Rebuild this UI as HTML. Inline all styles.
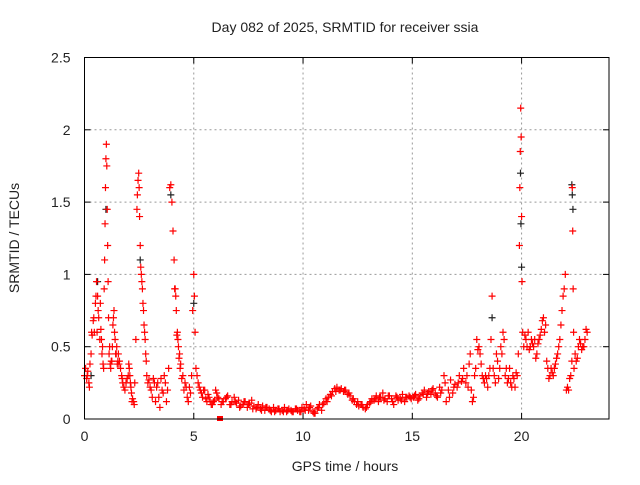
<!DOCTYPE html>
<html><head><meta charset="utf-8"><style>
body{margin:0;background:#fff}
svg text{font-family:"Liberation Sans",sans-serif;font-size:14px;fill:#222}
</style></head><body>
<svg id="chart" width="640" height="480" xmlns="http://www.w3.org/2000/svg">
<text x="345" y="32" text-anchor="middle">Day 082 of 2025, SRMTID for receiver ssia</text>
<text transform="translate(19,238) rotate(-90)" text-anchor="middle">SRMTID / TECUs</text>
<text x="345" y="471" text-anchor="middle">GPS time / hours</text>
<g id="grid"></g>
<g id="marks"></g>
<rect x="84.5" y="57.5" width="524.5" height="361.5" fill="none" stroke="#000" stroke-width="1"/>
</svg>
<script>
const xTicks=[0,5,10,15,20];
const yTicks=[0,0.5,1,1.5,2,2.5];
const yTickLabels=["0","0.5","1","1.5","2","2.5"];
const redT=[0,0.05,0.1,0.15,0.2,0.25,0.3,0.35,0.4,0.45,0.5,0.55,0.6,0.65,0.7,0.75,0.8,0.85,0.9,0.92,0.94,0.96,0.98,1.0,1.02,1.04,1.06,1.08,1.1,1.15,1.2,1.25,1.3,1.35,1.4,1.45,1.5,1.55,1.6,1.7,1.75,1.8,1.9,2.0,2.05,2.1,2.15,2.2,2.25,2.3,2.35,2.4,2.42,2.45,2.48,2.5,2.52,2.55,2.6,2.65,2.7,2.75,2.8,2.85,2.9,3.0,3.1,3.2,3.3,3.4,3.5,3.6,3.7,3.8,3.85,3.9,3.95,4.0,4.05,4.1,4.15,4.2,4.25,4.3,4.35,4.4,4.5,4.6,4.7,4.8,4.9,4.95,5.0,5.03,5.06,5.1,5.2,5.3,5.4,5.5,5.6,5.7,5.8,5.9,6.0,6.1,6.3,6.5,6.7,6.9,7.1,7.3,7.5,7.7,7.9,8.1,8.3,8.5,8.7,8.9,9.1,9.3,9.5,9.7,9.9,10.1,10.3,10.5,10.7,10.9,11.1,11.3,11.5,11.7,11.9,12.1,12.3,12.5,12.7,12.9,13.1,13.3,13.5,13.7,13.9,14.1,14.3,14.5,14.7,14.9,15.1,15.3,15.5,15.7,15.9,16.1,16.3,16.5,16.7,16.9,17.1,17.3,17.5,17.6,17.7,17.8,17.9,18.0,18.1,18.2,18.3,18.4,18.5,18.6,18.65,18.7,18.8,18.9,19.0,19.1,19.2,19.3,19.4,19.5,19.6,19.7,19.8,19.85,19.9,19.92,19.94,19.96,19.98,20.0,20.02,20.05,20.1,20.2,20.3,20.4,20.5,20.6,20.7,20.8,20.9,21.0,21.1,21.2,21.3,21.4,21.5,21.6,21.7,21.8,21.9,22.0,22.05,22.1,22.2,22.3,22.32,22.34,22.36,22.38,22.4,22.5,22.6,22.7,22.8,22.9,23.0];
const redV=[0.3,0.35,0.28,0.33,0.25,0.38,0.45,0.58,0.68,0.6,0.8,0.95,0.85,0.7,0.55,0.62,0.45,0.38,0.9,1.1,1.35,1.6,1.8,1.9,1.75,1.45,1.2,0.95,0.7,0.5,0.35,0.4,0.65,0.75,0.55,0.45,0.38,0.45,0.4,0.3,0.25,0.22,0.25,0.3,0.35,0.25,0.18,0.14,0.12,0.25,0.55,1.45,1.55,1.65,1.7,1.6,1.4,1.2,1.0,0.9,0.75,0.6,0.45,0.3,0.25,0.22,0.15,0.25,0.22,0.15,0.28,0.18,0.25,0.2,0.35,1.6,1.62,1.5,1.3,1.1,0.9,0.75,0.6,0.5,0.45,0.38,0.3,0.25,0.15,0.22,0.3,0.75,1.0,0.85,0.6,0.35,0.25,0.2,0.15,0.2,0.12,0.15,0.1,0.12,0.2,0.15,0.12,0.15,0.1,0.12,0.08,0.12,0.1,0.07,0.08,0.06,0.08,0.06,0.05,0.07,0.05,0.06,0.05,0.07,0.05,0.06,0.08,0.04,0.08,0.1,0.12,0.16,0.19,0.2,0.2,0.18,0.14,0.12,0.1,0.08,0.12,0.14,0.15,0.13,0.16,0.12,0.15,0.13,0.15,0.15,0.16,0.14,0.17,0.18,0.2,0.16,0.18,0.25,0.15,0.22,0.25,0.28,0.3,0.38,0.2,0.15,0.35,0.48,0.45,0.3,0.25,0.28,0.3,0.55,0.85,0.35,0.25,0.4,0.35,0.45,0.55,0.35,0.28,0.25,0.3,0.22,0.3,0.45,1.2,1.6,1.85,2.15,1.95,1.4,0.95,0.6,0.5,0.55,0.6,0.5,0.52,0.55,0.45,0.55,0.62,0.7,0.65,0.35,0.3,0.32,0.35,0.42,0.5,0.65,0.85,1.0,0.2,0.22,0.28,0.4,1.6,1.3,0.9,0.6,0.35,0.4,0.5,0.52,0.5,0.55,0.6];
const redT2=[0.125,0.225,0.325,0.425,0.525,0.575,0.625,0.725,0.775,0.825,0.875,1.125,1.175,1.225,1.275,1.325,1.375,1.425,1.475,1.525,1.575,1.65,1.725,1.85,1.95,2.025,2.075,2.125,2.175,2.275,2.575,2.625,2.675,2.725,2.775,2.825,2.95,3.05,3.15,3.25,3.35,3.45,3.55,3.65,3.75,4.125,4.175,4.225,4.275,4.325,4.375,4.45,4.55,4.65,4.75,4.85,
5.15,5.25,5.35,5.45,5.55,5.65,5.75,5.85,5.95,6.05,6.15,6.25,6.35,6.45,6.55,6.65,6.75,6.85,6.95,7.05,7.15,7.25,7.35,7.45,7.55,7.65,7.75,7.85,7.95,8.05,8.15,8.25,8.35,8.45,8.55,8.65,8.75,8.85,8.95,9.05,9.15,9.25,9.35,9.45,9.55,9.65,9.75,9.85,9.95,10.05,10.15,10.25,10.35,10.45,10.55,10.65,10.75,10.85,10.95,11.05,11.15,11.25,11.35,11.45,11.55,11.65,11.75,11.85,11.95,12.05,12.15,12.25,12.35,12.45,12.55,12.65,12.75,12.85,12.95,13.05,13.15,13.25,13.35,13.45,13.55,13.65,13.75,13.85,13.95,14.05,14.15,14.25,14.35,14.45,14.55,14.65,14.75,14.85,14.95,15.05,15.15,15.25,15.35,15.45,15.55,15.65,15.75,15.85,15.95,16.05,16.15,16.25,16.35,16.45,16.55,16.65,16.75,16.85,16.95,17.05,17.15,17.25,17.35,17.45,17.55,17.65,17.75,17.85,17.95,
18.05,18.15,18.25,18.35,18.45,18.55,18.75,18.85,18.95,19.05,19.15,19.25,19.35,19.45,19.55,19.65,19.75,20.15,20.25,20.35,20.45,20.55,20.65,20.75,20.85,20.95,21.05,21.15,21.25,21.35,21.45,21.55,21.65,21.75,21.85,21.95,22.15,22.25,22.45,22.55,22.65,22.75,22.85,22.95];
const redV2=[0.3,0.22,0.6,0.7,0.85,0.6,0.75,0.8,0.55,0.5,0.35,0.45,0.38,0.4,0.5,0.7,0.6,0.45,0.5,0.4,0.38,0.35,0.28,0.2,0.28,0.38,0.3,0.22,0.12,0.1,1.05,0.95,0.8,0.65,0.55,0.4,0.27,0.2,0.28,0.12,0.25,0.08,0.2,0.3,0.12,0.9,0.85,0.58,0.55,0.42,0.35,0.28,0.2,0.22,0.12,0.18,
0.3,0.22,0.18,0.2,0.14,0.17,0.12,0.1,0.13,0.18,0.14,0.1,0.12,0.14,0.16,0.1,0.12,0.15,0.11,0.13,0.09,0.1,0.12,0.08,0.11,0.13,0.09,0.07,0.1,0.07,0.09,0.06,0.08,0.07,0.05,0.08,0.06,0.07,0.05,0.06,0.08,0.05,0.07,0.06,0.05,0.07,0.06,0.05,0.08,0.07,0.1,0.06,0.09,0.05,0.04,0.07,0.1,0.06,0.11,0.14,0.15,0.17,0.19,0.21,0.22,0.2,0.21,0.19,0.2,0.17,0.16,0.13,0.12,0.1,0.09,0.1,0.08,0.07,0.1,0.11,0.14,0.13,0.16,0.12,0.15,0.18,0.14,0.12,0.16,0.14,0.1,0.16,0.13,0.14,0.17,0.12,0.15,0.16,0.14,0.15,0.17,0.13,0.16,0.18,0.2,0.15,0.19,0.17,0.21,0.18,0.15,0.22,0.2,0.3,0.12,0.2,0.27,0.18,0.24,0.22,0.3,0.26,0.35,0.25,0.22,0.45,0.12,0.3,0.55,
0.5,0.38,0.28,0.3,0.22,0.35,0.3,0.45,0.28,0.5,0.6,0.3,0.25,0.35,0.22,0.28,0.32,0.58,0.5,0.48,0.55,0.5,0.42,0.52,0.58,0.68,0.6,0.4,0.28,0.35,0.3,0.38,0.45,0.55,0.75,0.9,0.2,0.3,0.45,0.42,0.55,0.48,0.5,0.62];
const blackT=[0.3,0.6,0.98,2.55,3.95,5.0,18.65,19.95,19.97,20.0,22.3,22.32,22.35];
const blackV=[0.3,0.95,1.45,1.1,1.55,0.8,0.7,1.7,1.35,1.05,1.62,1.55,1.45];
const X0=84.5,X1=609,Y0=419,Y1=57.5;
const xs=t=>X0+t/24*(X1-X0);
const ys=v=>Y0-v/2.5*(Y0-Y1);
const NS="http://www.w3.org/2000/svg";
const grid=document.getElementById('grid'),marks=document.getElementById('marks');
function mk(tag,attrs,parent){const e=document.createElementNS(NS,tag);for(const k in attrs)e.setAttribute(k,attrs[k]);parent.appendChild(e);return e;}
xTicks.forEach(t=>{const x=xs(t);
 if(t>0&&t<24){const l=mk('line',{x1:x,x2:x,y1:Y1,y2:Y0,stroke:'#999','stroke-dasharray':'2,3'},grid);
 
 }
 mk('line',{x1:x,x2:x,y1:Y0,y2:Y0-6,stroke:'#000'},grid);mk('line',{x1:x,x2:x,y1:Y1,y2:Y1+6,stroke:'#000'},grid);
 const tx=mk('text',{x:x,y:Y0+22,'text-anchor':'middle'},grid);tx.textContent=String(t);
 
 });
yTicks.forEach((v,i)=>{const y=ys(v);
 if(v>0&&v<2.5){const l=mk('line',{x1:X0,x2:X1,y1:y,y2:y,stroke:'#999','stroke-dasharray':'2,3'},grid);
 
 }
 mk('line',{x1:X0,x2:X0+6,y1:y,y2:y,stroke:'#000'},grid);mk('line',{x1:X1,x2:X1-6,y1:y,y2:y,stroke:'#000'},grid);
 const tx=mk('text',{x:X0-14,y:y+5,'text-anchor':'end'},grid);tx.textContent=yTickLabels[i];
 
 });
function cross(t,v,c){const x=xs(t),y=ys(v);
 const p=mk('path',{d:`M${x-3.5},${y}h7M${x},${y-3.5}v7`,stroke:c,'stroke-width':1.2,fill:'none'},marks);
 
 }
blackT.forEach((t,i)=>cross(t,blackV[i],'#222'));
redT.forEach((t,i)=>cross(t,redV[i],'#f00'));
redT2.forEach((t,i)=>cross(t,redV2[i],'#f00'));
const sq=mk('rect',{x:xs(6.2)-3,y:ys(0)-3,width:6,height:5,fill:'#f00'},marks);


</script>
</body></html>
